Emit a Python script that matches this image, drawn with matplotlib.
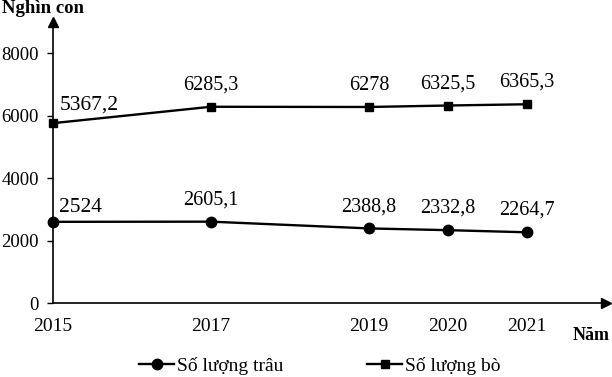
import matplotlib
matplotlib.use('AGG')
import matplotlib.pyplot as plt

years = [2015, 2017, 2019, 2020, 2021]
# plotted heights as drawn in the chart, labels as printed
trau = [2600, 2605.1, 2388.8, 2332.8, 2264.7]
bo = [5760, 6285.3, 6278, 6325.5, 6365.3]
trau_labels = ['2524', '2605,1', '2388,8', '2332,8', '2264,7']
bo_labels = ['5367,2', '6285,3', '6278', '6325,5', '6365,3']
yticks = [0, 2000, 4000, 6000, 8000]

plt.rcParams['font.family'] = ['Liberation Serif', 'DejaVu Serif']

fig = plt.figure(figsize=(6.12, 3.77), dpi=100)
ax = fig.add_axes([53/612, 1 - 303/377, 553/612, 281/377])

l1, = ax.plot(years, trau, color='black', lw=1.7, marker='o', ms=7.5, clip_on=False)
l2, = ax.plot(years, bo, color='black', lw=1.7, marker='s', ms=6, clip_on=False)

for i, (x, y, s) in enumerate(zip(years, trau, trau_labels)):
    if i == 0:
        ax.annotate(s, (x, y), xytext=(4, 7), textcoords='offset points',
                    ha='left', va='baseline', fontsize=15.5)
    else:
        ax.annotate(s, (x, y), xytext=(0, 12.5), textcoords='offset points',
                    ha='center', va='baseline', fontsize=14.5)
for i, (x, y, s) in enumerate(zip(years, bo, bo_labels)):
    if i == 0:
        ax.annotate(s, (x, y), xytext=(5, 9.5), textcoords='offset points',
                    ha='left', va='baseline', fontsize=15.5)
    else:
        ax.annotate(s, (x, y), xytext=(0, 12.5), textcoords='offset points',
                    ha='center', va='baseline', fontsize=14.5)

ax.set_xlim(2015, 2022)
ax.set_ylim(0, 9000)
ax.set_xticks(years)
ax.set_xticklabels([str(y) for y in years])
ax.set_yticks(yticks)
ax.tick_params(axis='x', length=0, pad=10.5, labelsize=14)
ax.tick_params(axis='y', direction='out', length=4, width=1, pad=6, labelsize=13.5)

for side in ['top', 'right']:
    ax.spines[side].set_visible(False)
for side in ['left', 'bottom']:
    ax.spines[side].set_linewidth(1.2)

# arrow heads
ax.plot(0, 1, marker='^', color='black', ms=7, transform=ax.transAxes, clip_on=False)
ax.plot(1, 0, marker='>', color='black', ms=7, transform=ax.transAxes, clip_on=False)

fig.text(2/612, 1 - 13/377, 'Nghìn con', fontsize=13.5, fontweight='bold', va='baseline', ha='left')
fig.text(573/612, 1 - 336/377, 'Năm', fontsize=13, fontweight='bold', va='center', ha='left')

fig.legend([l1, l2], ['Số lượng trâu', 'Số lượng bò'], loc='center',
           bbox_to_anchor=(320/612, 1 - 366/377), ncol=2, frameon=False,
           fontsize=14, handlelength=1.8, handletextpad=0.15, columnspacing=4.3)

fig.savefig('out.png', dpi=100)
